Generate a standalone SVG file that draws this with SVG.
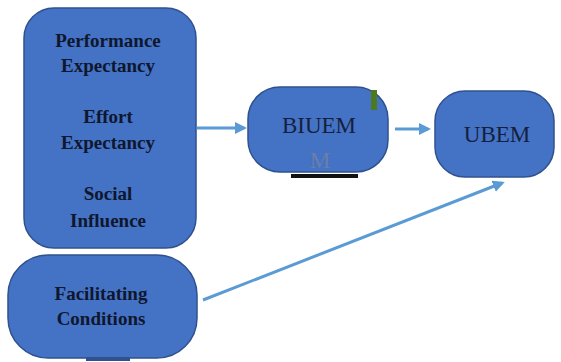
<svg xmlns="http://www.w3.org/2000/svg" width="561" height="362" viewBox="0 0 561 362">
<style>
.box{fill:#4472C4;stroke:#2F528F;stroke-width:1.5}
text{font-family:"Liberation Serif","Times New Roman","DejaVu Serif",serif}
.lbl{font-weight:bold;font-size:19px;fill:#0f172e;text-anchor:middle}
.reg{font-size:23px;fill:#15203d;text-anchor:middle}
.conn{stroke:#5B9BD5;stroke-width:3;fill:none}
</style>
<defs>
<marker id="ah" markerWidth="4" markerHeight="4" refX="3" refY="2" orient="auto" markerUnits="strokeWidth">
<path d="M0,0 L4,2 L0,4 Z" fill="#5B9BD5"/>
</marker>
</defs>
<rect width="561" height="362" fill="#ffffff"/>
<g id="connectors">
<line class="conn" x1="197" y1="128" x2="244" y2="128" stroke-width="2" marker-end="url(#ah)"/>
<line class="conn" x1="395" y1="129" x2="428" y2="129" marker-end="url(#ah)"/>
<line class="conn" x1="203" y1="300" x2="502" y2="183" marker-end="url(#ah)"/>
</g>
<g id="node-ue">
<rect class="box" x="24" y="8" width="172" height="240" rx="30"/>
<text class="lbl" x="108" y="47">Performance</text>
<text class="lbl" x="108" y="72">Expectancy</text>
<text class="lbl" x="108" y="123">Effort</text>
<text class="lbl" x="108" y="149">Expectancy</text>
<text class="lbl" x="108" y="200">Social</text>
<text class="lbl" x="108" y="227">Influence</text>
</g>
<g id="node-fc">
<rect class="box" x="8" y="255" width="189" height="103" rx="40"/>
<rect x="86" y="357" width="44" height="4" fill="#2F528F"/>
<text class="lbl" x="101" y="300">Facilitating</text>
<text class="lbl" x="101" y="325">Conditions</text>
</g>
<g id="node-biuem">
<rect class="box" x="248" y="87" width="140" height="85" rx="32"/>
<rect x="371" y="90" width="6" height="20" fill="#4E7A1F"/>
<rect x="291" y="174" width="67" height="4" fill="#111111"/>
<text class="reg" x="319" y="133">BIUEM</text>
<text class="reg" x="320" y="168" style="fill:#6a7fa8">M</text>
</g>
<g id="node-ubem">
<rect class="box" x="435" y="91" width="119" height="86" rx="30"/>
<text class="reg" x="497" y="142">UBEM</text>
</g>
</svg>
